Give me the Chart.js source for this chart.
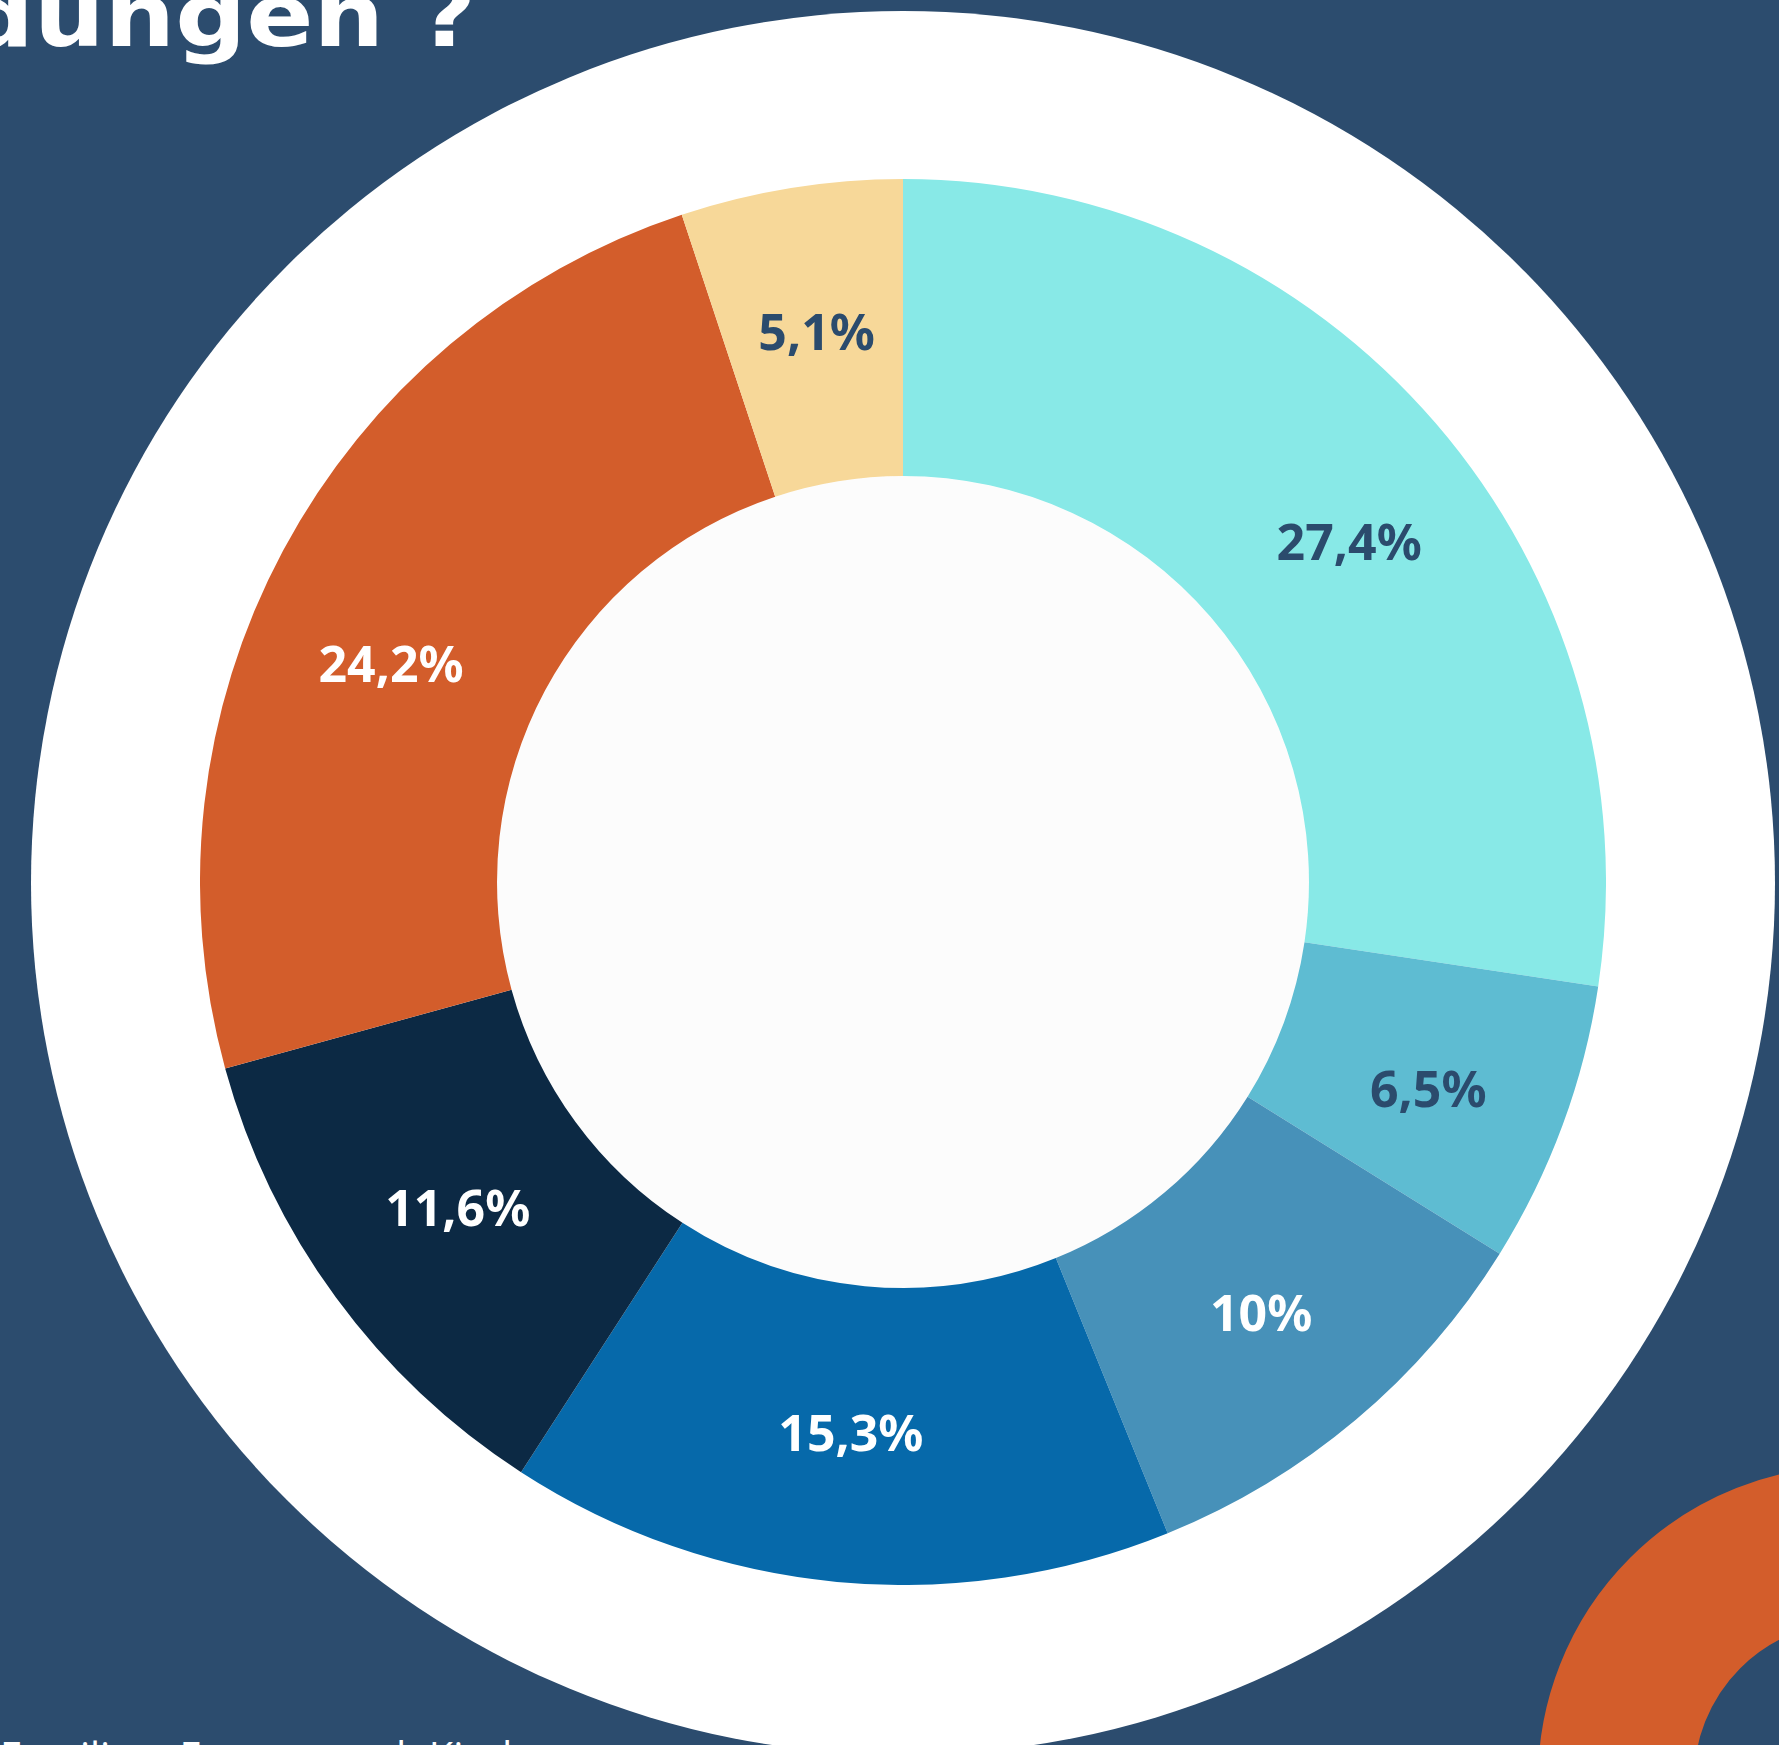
<!DOCTYPE html>
<html lang="de">
<head>
<meta charset="utf-8">
<title>Doughnut</title>
<script src="https://cdn.jsdelivr.net/npm/chart.js@4/dist/chart.umd.min.js"></script>
<style>
    html, body {
        margin: 0;
        padding: 0;
        width: 1779px;
        height: 1745px;
        overflow: hidden;
        background: #2C4C6E;
    }
    .disc {
        position: absolute;
        left: 31px;
        top: 11px;
        width: 1744px;
        height: 1744px;
        border-radius: 50%;
        background: #ffffff;
    }
    .ring {
        position: absolute;
        left: 1538px;
        top: 1466px;
        width: 316px;
        height: 316px;
        border: 156px solid #D35D2B;
        border-radius: 50%;
    }
    .title, .note {
        position: absolute;
        left: 0;
        top: 0;
        color: #ffffff;
        white-space: nowrap;
        transform-origin: left top;
    }
    .title {
        font-family: "DejaVu Sans", sans-serif;
        font-weight: 700;
    }
    .note {
        font-family: "Open Sans", sans-serif;
        font-weight: 400;
        word-spacing: 12px;
    }
    .chart-box {
        position: absolute;
        left: 200px;
        top: 179px;
        width: 1406px;
        height: 1406px;
    }
</style>
</head>
<body>
<div class="disc"></div>
<div class="ring"></div>
<div class="title" id="title">dungen ?</div>
<div class="note" id="note">Familien Frauen und Kinder</div>
<div class="chart-box"><canvas id="chart"></canvas></div>

<script>
// Data
const categories = ['Segment 1', 'Segment 2', 'Segment 3', 'Segment 4', 'Segment 5', 'Segment 6', 'Segment 7'];
const shares = [27.4, 6.5, 10, 15.3, 11.6, 24.2, 5.1];
const sliceColors = ['#88E9E7', '#5EBCD2', '#4791B9', '#0669AA', '#0C2944', '#D35D2B', '#F7D899'];
const labelColors = ['#2B4B6D', '#2B4B6D', '#ffffff', '#ffffff', '#ffffff', '#ffffff', '#2B4B6D'];

// small nudges so the labels sit where the original put them (px)
const labelNudge = [[26, 26], [5, 19], [1, 11], [0, 3], [2, 2], [-23, 47], [2, 1]];

// Text placement helpers (title and footnote are cut by the page edge)
const measure = document.createElement('canvas').getContext('2d');

function baselineOffset(font, lineHeight) {
    measure.font = font;
    const m = measure.measureText('Hg');
    return (lineHeight - (m.fontBoundingBoxAscent + m.fontBoundingBoxDescent)) / 2 + m.fontBoundingBoxAscent;
}

function placeTitle() {
    const el = document.getElementById('title');
    const family = '"DejaVu Sans"';
    measure.font = `700 100px ${family}`;
    const xHeight = measure.measureText('x').actualBoundingBoxAscent;
    const size = 100 * 48 / xHeight;
    const font = `700 ${size}px ${family}`;
    measure.font = font;
    const text = el.textContent;
    const rightInk = measure.measureText(text).actualBoundingBoxRight;
    const uLeft = measure.measureText('d').width - measure.measureText('u').actualBoundingBoxLeft;
    const scaleX = (470 - 41) / (rightInk - uLeft);
    const left = 470 - scaleX * rightInk;
    el.style.fontSize = size + 'px';
    el.style.lineHeight = size + 'px';
    el.style.top = (47 - baselineOffset(font, size)) + 'px';
    el.style.left = left + 'px';
    el.style.transform = `scaleX(${scaleX})`;
}

function placeNote() {
    const el = document.getElementById('note');
    const size = 40;
    const font = `400 ${size}px "Open Sans"`;
    measure.font = font;
    const ascL = measure.measureText('l').actualBoundingBoxAscent;
    el.style.fontSize = size + 'px';
    el.style.lineHeight = size + 'px';
    el.style.top = (1740 + ascL - baselineOffset(font, size)) + 'px';
}

// Fills the hole and writes the percentages on the slices
const sliceLabels = {
    id: 'sliceLabels',
    beforeDatasetsDraw(chart) {
        const first = chart.getDatasetMeta(0).data[0];
        if (!first) return;
        const ctx = chart.ctx;
        ctx.save();
        ctx.fillStyle = '#FCFCFC';
        ctx.beginPath();
        ctx.arc(first.x, first.y, first.innerRadius, 0, Math.PI * 2);
        ctx.fill();
        ctx.restore();
    },
    afterDatasetsDraw(chart) {
        const ctx = chart.ctx;
        ctx.save();
        ctx.font = '700 50px "Noto Sans"';
        ctx.textAlign = 'center';
        ctx.textBaseline = 'middle';
        chart.getDatasetMeta(0).data.forEach((arc, i) => {
            const pos = arc.tooltipPosition();
            const [dx, dy] = labelNudge[i];
            ctx.fillStyle = labelColors[i];
            ctx.fillText(String(shares[i]).replace('.', ',') + '%', pos.x + dx, pos.y + dy);
        });
        ctx.restore();
    }
};

placeTitle();
placeNote();

new Chart(document.getElementById('chart'), {
    type: 'doughnut',
    data: {
        labels: categories,
        datasets: [{
            data: shares,
            backgroundColor: sliceColors,
            borderWidth: 0,
            hoverOffset: 0
        }]
    },
    options: {
        responsive: true,
        maintainAspectRatio: false,
        animation: false,
        cutout: '57.75%',
        layout: { padding: 0 },
        plugins: {
            legend: { display: false },
            tooltip: { enabled: false }
        }
    },
    plugins: [sliceLabels]
});
</script>
</body>
</html>
